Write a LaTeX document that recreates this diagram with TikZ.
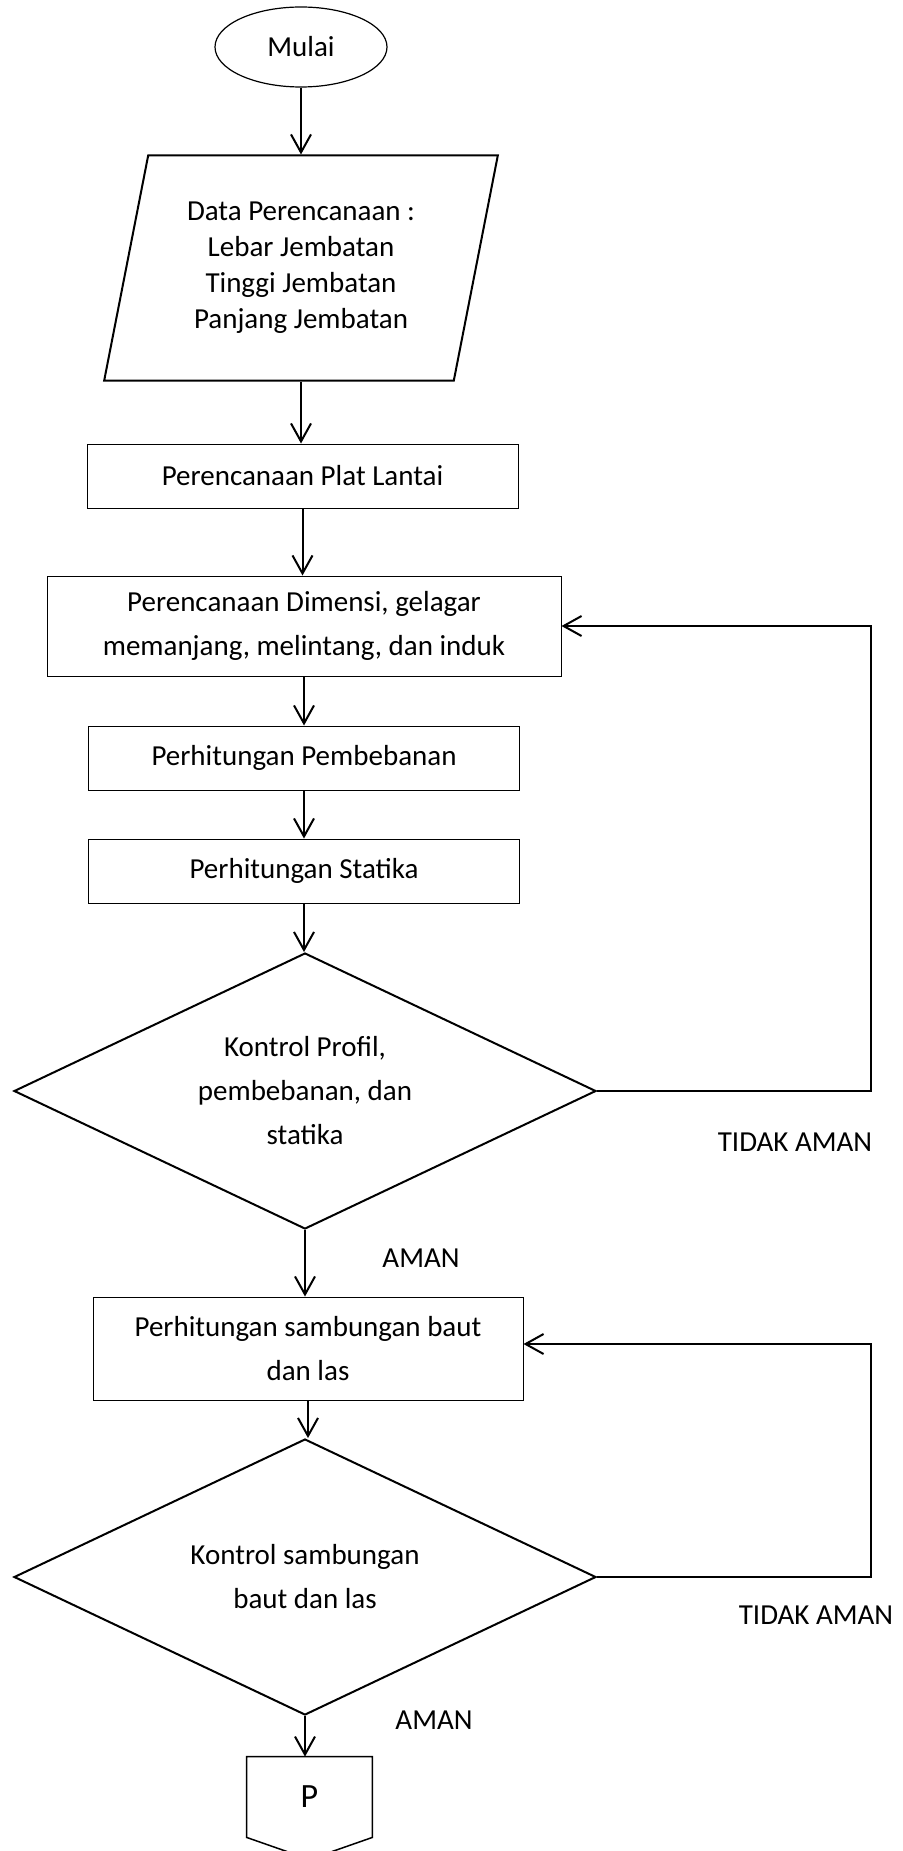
\documentclass[tikz,border=0pt]{standalone}
\usepackage{fontspec}
\setmainfont{Carlito}
\usetikzlibrary{arrows.meta, positioning, shapes.geometric, calc}

\begin{document}
\begin{tikzpicture}[
    x=0.5pt, y=-0.5pt,
    terminal/.style={ellipse, draw, line width=0.6pt, minimum width=86pt, minimum height=40pt, inner sep=0pt, font=\fontsize{14.5}{22}\selectfont},
    inputbox/.style={trapezium, trapezium left angle=76, trapezium right angle=104, trapezium stretches=true, draw, line width=1pt, minimum width=197pt, minimum height=112.5pt, align=center, inner sep=0pt, font=\fontsize{14.5}{18}\selectfont},
    process/.style={rectangle, draw, line width=0.5pt, align=center, inner sep=0pt, font=\fontsize{14.5}{22}\selectfont},
    decision/.style={diamond, draw, line width=1pt, shape aspect=2.1, inner sep=0pt, minimum width=291pt, minimum height=138pt, align=center, font=\fontsize{14.5}{22}\selectfont},
    arrow/.style={-{Straight Barb[length=9pt, width=10pt]}, line width=1pt},
    lbl/.style={font=\fontsize{14.5}{22}\selectfont},
]
    \useasboundingbox (0,0) rectangle (903,1851);

    % Main column
    \node[terminal] (mulai) at (301,47) {Mulai};
    \node[inputbox] (data) at (301,268) {Data Perencanaan :\\Lebar Jembatan\\Tinggi Jembatan\\Panjang Jembatan};
    \node[process, minimum width=215.5pt, minimum height=32pt] (plat) at (302.5,476) {Perencanaan Plat Lantai};
    \node[process, minimum width=257pt, minimum height=50pt] (dimensi) at (304,626) {Perencanaan Dimensi, gelagar\\memanjang, melintang, dan induk};
    \node[process, minimum width=215.5pt, minimum height=32pt] (beban) at (304,758) {Perhitungan Pembebanan};
    \node[process, minimum width=215.5pt, minimum height=32pt] (statika) at (304,871) {Perhitungan Statika};
    \node[decision] (kontrolA) at (305,1091) {Kontrol Profil,\\pembebanan, dan\\statika};
    \node[process, minimum width=215pt, minimum height=51.5pt] (sambungan) at (308,1348.5) {Perhitungan sambungan baut\\dan las};
    \node[decision] (kontrolB) at (305,1577) {Kontrol sambungan\\baut dan las};
    \node[minimum width=62.5pt, minimum height=40pt, inner sep=0pt, font=\fontsize{17}{20}\selectfont] (pconn) at (309.5,1797) {P};
    \draw[line width=0.75pt] (pconn.south west) -- (pconn.north west) -- (pconn.north east) -- (pconn.south east) -- ([yshift=-11pt]pconn.south) -- cycle;

    % Arrows down
    \draw[arrow] (mulai.south) -- (mulai.south |- data.north);
    \draw[arrow] (data.south) -- (data.south |- plat.north);
    \draw[arrow] (plat.south) -- (plat.south |- dimensi.north);
    \draw[arrow] (dimensi.south) -- (dimensi.south |- beban.north);
    \draw[arrow] (beban.south) -- (beban.south |- statika.north);
    \draw[arrow] (statika.south) -- (statika.south |- kontrolA.north);
    \draw[arrow] (kontrolA.south) -- (kontrolA.south |- sambungan.north);
    \draw[arrow] (sambungan.south) -- (sambungan.south |- kontrolB.north);
    \draw[arrow] (kontrolB.south) -- (kontrolB.south |- pconn.north);

    % Loops back
    \coordinate (loopA) at (871,626);
    \coordinate (loopB) at (871,1344);
    \draw[arrow] (kontrolA.east) -| (loopA) -- (dimensi.east |- loopA);
    \draw[arrow] (kontrolB.east) -| (loopB) -- (sambungan.east |- loopB);

    % Labels
    \node[lbl] (tidakA) at (795,1142) {TIDAK AMAN};
    \node[lbl] (amanA) at (421,1258) {AMAN};
    \node[lbl] (tidakB) at (816,1615) {TIDAK AMAN};
    \node[lbl] (amanB) at (434,1720) {AMAN};
\end{tikzpicture}
\end{document}
